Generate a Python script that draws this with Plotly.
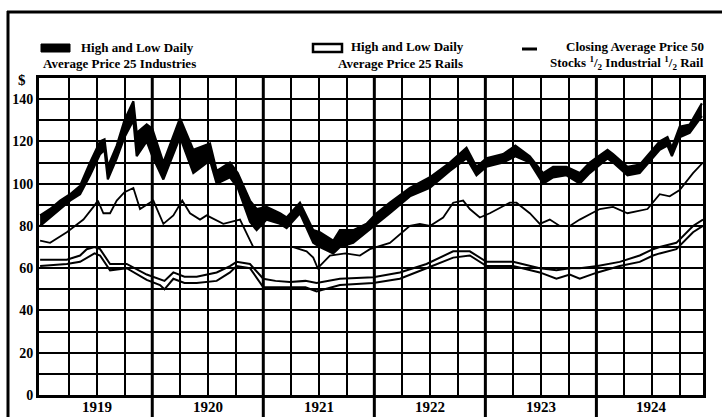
import plotly.graph_objects as go

# ---- Data (dates as fractional years) ----
ind_dates = [1918.99, 1919.08, 1919.17, 1919.26, 1919.35, 1919.44, 1919.53, 1919.57,
             1919.60, 1919.68, 1919.75, 1919.83, 1919.86, 1919.95, 1920.00, 1920.10,
             1920.25, 1920.37, 1920.52, 1920.58, 1920.70, 1920.77, 1920.88, 1920.94,
             1921.03, 1921.15, 1921.21, 1921.33, 1921.45, 1921.51, 1921.63, 1921.69,
             1921.81, 1921.93, 1922.02, 1922.14, 1922.32, 1922.50, 1922.68, 1922.83,
             1922.92, 1923.01, 1923.16, 1923.27, 1923.40, 1923.52, 1923.61, 1923.73,
             1923.85, 1923.94, 1924.10, 1924.15, 1924.28, 1924.39, 1924.57, 1924.64,
             1924.68, 1924.75, 1924.84, 1924.95]
ind_low = [80, 84, 88, 92, 95, 104, 114, 116,
           102, 112, 122, 130, 113, 120, 113, 102,
           122, 105, 111, 100, 103, 98, 82, 78,
           83, 81, 79, 86, 72, 70, 67, 70,
           72, 77, 81, 86, 94, 98, 106, 112,
           104, 108, 110, 113, 110, 100, 103, 104,
           100, 105, 112, 110, 104, 105, 116, 118,
           113, 122, 124, 132]
ind_high = [85, 88, 92, 95, 99, 110, 120, 121,
            108, 118, 130, 139, 124, 128, 126, 110,
            131, 116, 119, 106, 110, 105, 92, 88,
            89, 86, 84, 91, 78, 77, 73, 78,
            78, 81, 86, 91, 98, 103, 110, 117,
            108, 112, 114, 118, 113, 105, 108, 108,
            105, 110, 116, 114, 108, 109, 120, 122,
            117, 127, 128, 138]

rail_dates = [1918.99, 1919.23, 1919.35, 1919.41, 1919.48, 1919.53, 1919.62, 1919.77,
              1919.95, 1920.07, 1920.11, 1920.19, 1920.29, 1920.40, 1920.58, 1920.70,
              1920.76, 1920.88, 1921.00, 1921.11, 1921.24, 1921.38, 1921.48, 1921.69,
              1921.99, 1922.23, 1922.47, 1922.71, 1922.86, 1923.01, 1923.25, 1923.49,
              1923.64, 1923.76, 1923.85, 1924.01, 1924.21, 1924.39, 1924.51, 1924.57,
              1924.72, 1924.87, 1924.96]
rail_high = [64, 64, 66, 69, 70, 69, 62, 62,
             57, 55, 54, 58, 56, 56, 58, 61,
             63, 62, 55, 54, 53.5, 54, 53, 55,
             55.7, 58, 62, 68, 68, 63, 63, 60,
             59, 60, 60, 61, 63, 66, 69, 70,
             72, 80, 83]
rail_low = [61, 62, 63, 65, 67, 66, 59, 60,
            54.5, 52, 50, 55, 53, 53, 54, 58,
            61, 60, 51, 51, 51, 51, 49, 52,
            53, 55, 60, 65, 66, 61, 61, 58,
            55, 57, 55, 58, 61, 63, 66, 67,
            69, 77, 80]

close_dates = [1918.99, 1919.08, 1919.23, 1919.38, 1919.47, 1919.51, 1919.56, 1919.62,
               1919.68, 1919.75, 1919.83, 1919.89, 1919.95, 1920.01, 1920.10, 1920.19,
               1920.27, 1920.34, 1920.43, 1920.49, 1920.64, 1920.79, 1920.91, 1921.03,
               1921.15, 1921.27, 1921.39, 1921.45, 1921.49, 1921.60, 1921.74, 1921.87,
               1921.96, 1922.14, 1922.32, 1922.41, 1922.50, 1922.62, 1922.71, 1922.80,
               1922.86, 1922.95, 1923.04, 1923.22, 1923.28, 1923.40, 1923.49, 1923.58,
               1923.67, 1923.76, 1923.85, 1924.03, 1924.15, 1924.28, 1924.46, 1924.57,
               1924.66, 1924.75, 1924.87, 1924.96]
close_avg = [73, 72, 77, 83, 89, 92, 86, 86,
             92, 96, 98, 88, 90, 92, 81, 85,
             92, 86, 83, 85, 81, 83, 70, 70,
             70, 70, 68, 65, 60, 66, 67, 66,
             69, 72, 80, 81, 80, 84, 91, 92,
             88, 84, 86, 91, 91, 86, 81, 83,
             80, 80, 83, 88, 89, 86, 88, 95,
             94, 97, 105, 110]

years = [1919, 1920, 1921, 1922, 1923, 1924]
y_ticks = [0, 20, 40, 60, 80, 100, 120, 140]

SERIF = "Liberation Serif"

fig = go.Figure()

# Industrials: solid black band between daily low and high
fig.add_trace(go.Scatter(x=ind_dates, y=ind_low, mode="lines",
                         line=dict(color="black", width=2.2), showlegend=False))
fig.add_trace(go.Scatter(x=ind_dates, y=ind_high, mode="lines", fill="tonexty",
                         fillcolor="black", line=dict(color="black", width=2.2),
                         showlegend=False))
# Rails: open band drawn as two outline lines
fig.add_trace(go.Scatter(x=rail_dates, y=rail_high, mode="lines",
                         line=dict(color="black", width=2), showlegend=False))
fig.add_trace(go.Scatter(x=rail_dates, y=rail_low, mode="lines",
                         line=dict(color="black", width=2), showlegend=False))
# Closing average of 50 stocks
fig.add_trace(go.Scatter(x=close_dates, y=close_avg, mode="lines",
                         line=dict(color="black", width=1.8), showlegend=False))

L, R, T, B = 39, 19, 78, 22
W, H = 722, 417
PW, PH = W - L - R, H - T - B


def px(xp):
    return (xp - L) / PW


def py(yp):
    return (H - B - yp) / PH


shapes = []
# Heavy year separators running down past the axis
for yr in years[1:]:
    shapes.append(dict(type="line", xref="x", yref="paper", x0=yr, x1=yr,
                       y0=py(420), y1=1, line=dict(color="black", width=3),
                       layer="below"))
# Outer frame (top and left)
shapes.append(dict(type="line", xref="paper", yref="paper", x0=px(7), x1=px(722),
                   y0=py(12), y1=py(12), line=dict(color="black", width=3)))
shapes.append(dict(type="line", xref="paper", yref="paper", x0=px(8), x1=px(8),
                   y0=py(11), y1=py(420), line=dict(color="black", width=3)))
# Key symbols
shapes.append(dict(type="rect", xref="paper", yref="paper", x0=px(41), x1=px(70),
                   y0=py(52), y1=py(44), fillcolor="black", line=dict(color="black", width=1)))
shapes.append(dict(type="rect", xref="paper", yref="paper", x0=px(313), x1=px(342),
                   y0=py(52), y1=py(44), fillcolor="white", line=dict(color="black", width=2.5)))
shapes.append(dict(type="line", xref="paper", yref="paper", x0=px(522), x1=px(537),
                   y0=py(49), y1=py(49), line=dict(color="black", width=3)))

kfont = dict(family=SERIF, size=13, color="black", weight="bold")
annotations = [
    dict(text="High and Low Daily", x=px(79), y=py(48), xanchor="left"),
    dict(text="Average Price 25 Industries", x=px(41), y=py(63), xanchor="left"),
    dict(text="High and Low Daily", x=px(349), y=py(47), xanchor="left"),
    dict(text="Average Price 25 Rails", x=px(465), y=py(63), xanchor="right"),
    dict(text="Closing Average Price 50", x=px(706), y=py(47), xanchor="right"),
    dict(text="Stocks <sup>1</sup>/<sub>2</sub> Industrial <sup>1</sup>/<sub>2</sub> Rail",
         x=px(706), y=py(63), xanchor="right"),
    dict(text="$", x=px(22), y=py(80), xanchor="center",
         font=dict(family=SERIF, size=15, color="black", weight="bold")),
]
for a in annotations:
    a.setdefault("font", kfont)
    a.update(xref="paper", yref="paper", yanchor="middle", showarrow=False)

# Year names centred within each year, just under the axis
for yr in years:
    annotations.append(dict(text=str(yr), x=yr + 0.5, xref="x", y=py(407), yref="paper",
                            xanchor="center", yanchor="middle", showarrow=False,
                            font=dict(family=SERIF, size=15, color="black", weight="bold")))

fig.update_layout(
    width=W, height=H,
    margin=dict(l=L, r=R, t=T, b=B, pad=0, autoexpand=False),
    paper_bgcolor="white", plot_bgcolor="white",
    shapes=shapes, annotations=annotations,
    xaxis=dict(
        range=[1918.98, 1924.96], automargin=False,
        showticklabels=False,
        ticks="", showgrid=False, zeroline=False,
        showline=True, linecolor="black", linewidth=3, mirror=True,
        minor=dict(tickmode="linear", tick0=1919, dtick=0.25, showgrid=True,
                   gridcolor="black", gridwidth=2, ticks=""),
    ),
    yaxis=dict(
        range=[0, 150], automargin=False,
        tickmode="array", tickvals=y_ticks, ticktext=[str(v) for v in y_ticks],
        ticks="", showgrid=False, zeroline=False,
        showline=True, linecolor="black", linewidth=3, mirror=True,
        tickfont=dict(family=SERIF, size=14, color="black", weight="bold"),
        minor=dict(tickmode="linear", tick0=0, dtick=10, showgrid=True,
                   gridcolor="black", gridwidth=2, ticks=""),
    ),
)

fig.write_html("out.html")
